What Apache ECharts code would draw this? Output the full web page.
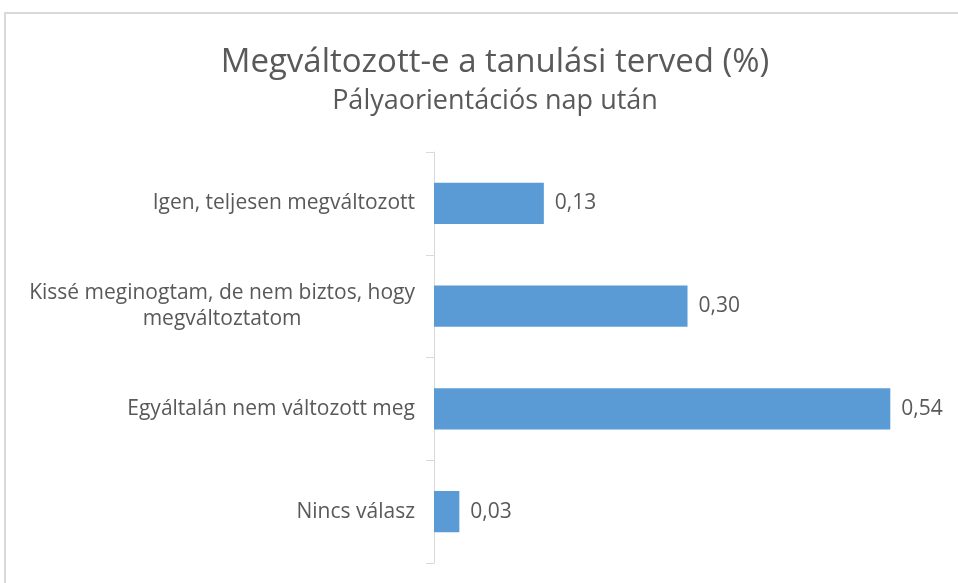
<!DOCTYPE html>
<html>
<head>
<meta charset="utf-8">
<script src="https://cdn.jsdelivr.net/npm/echarts@6/dist/echarts.min.js"></script>
<style>
  html, body { margin: 0; padding: 0; background: #fff; }
  #chart { width: 958px; height: 583px; }
</style>
</head>
<body>
<div id="chart"></div>
<script>
var categories = [
    'Igen, teljesen megváltozott',
    'Kissé meginogtam, de nem biztos, hogy\nmegváltoztatom',
    'Egyáltalán nem változott meg',
    'Nincs válasz'
];
var values = [0.13, 0.30, 0.54, 0.03];

var font = 'Open Sans';
var myChart = echarts.init(document.getElementById('chart'));
myChart.setOption({
    backgroundColor: '#fff',
    graphic: [{
        type: 'rect',
        shape: { x: 5, y: 13, width: 1000, height: 1000 },
        style: { fill: 'none', stroke: '#d9d9d9', lineWidth: 2 },
        silent: true
    }],
    title: [{
        text: 'Megváltozott-e a tanulási terved (%)',
        left: 490,
        top: 41,
        textAlign: 'center',
        textStyle: { fontFamily: font, fontSize: 33, fontWeight: 'normal', color: '#595959' }
    }, {
        text: 'Pályaorientációs nap után',
        left: 490,
        top: 83,
        textAlign: 'center',
        textStyle: { fontFamily: font, fontSize: 27, fontWeight: 'normal', color: '#595959' }
    }],
    grid: { left: 434, right: 17, top: 152, bottom: 20, containLabel: false },
    xAxis: {
        type: 'value',
        min: 0,
        max: 0.6,
        show: false
    },
    yAxis: {
        type: 'category',
        inverse: true,
        data: categories,
        axisLine: { show: true, lineStyle: { color: '#d9d9d9', width: 1 } },
        axisTick: { show: true, length: 8, lineStyle: { color: '#d9d9d9' } },
        axisLabel: {
            margin: 19,
            color: '#595959',
            fontFamily: font,
            fontSize: 21,
            lineHeight: 26,
            formatter: function (v) {
                return v.split('\n').map(function (s) { return '{c|' + s + '}'; }).join('\n');
            },
            rich: { c: { align: 'center', color: '#595959', fontFamily: font, fontSize: 21, lineHeight: 26 } }
        }
    },
    series: [{
        type: 'bar',
        data: values,
        barCategoryGap: '60%',
        itemStyle: { color: '#5B9BD5' },
        label: {
            show: true,
            position: 'right',
            distance: 11,
            color: '#595959',
            fontFamily: font,
            fontSize: 21,
            formatter: function (p) { return p.value.toFixed(2).replace('.', ','); }
        }
    }]
});
</script>
</body>
</html>
